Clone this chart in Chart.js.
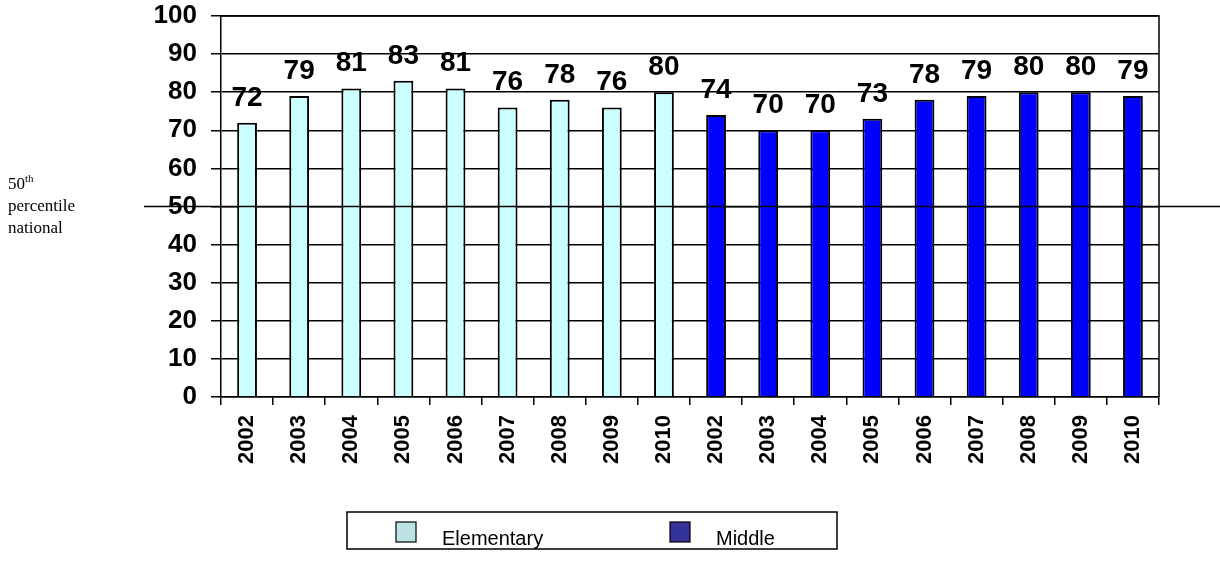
<!DOCTYPE html>
<html>
<head>
<meta charset="utf-8">
<script src="https://cdn.jsdelivr.net/npm/chart.js@4"></script>
<style>
  html, body { margin: 0; padding: 0; background: #fff; }
  #chart { display: block; }
</style>
</head>
<body>
<canvas id="chart" width="1220" height="561"></canvas>
<script>
// years shown under each group of bars
const years = ['2002', '2003', '2004', '2005', '2006', '2007', '2008', '2009', '2010'];

// percentile values
const elementaryScores = [72, 79, 81, 83, 81, 76, 78, 76, 80];
const middleScores = [74, 70, 70, 73, 78, 79, 80, 80, 79];

const yTicks = [0, 10, 20, 30, 40, 50, 60, 70, 80, 90, 100];
const nationalLine = 50;

// build the 18 slots: elementary first, then middle
const categories = years.concat(years);
const elementarySeries = elementaryScores.concat(years.map(() => null));
const middleSeries = years.map(() => null).concat(middleScores);

// draws the frame, value labels, 50th line, side note and the boxed legend
const extrasPlugin = {
  id: 'extras',
  afterDatasetsDraw(chart) {
    const ctx = chart.ctx;
    const area = chart.chartArea;
    const yScale = chart.scales.y;

    ctx.save();
    // frame top + right
    ctx.strokeStyle = '#000';
    ctx.lineWidth = 1.5;
    ctx.beginPath();
    ctx.moveTo(area.left, area.top);
    ctx.lineTo(area.right, area.top);
    ctx.lineTo(area.right, area.bottom);
    ctx.stroke();

    // value labels
    ctx.fillStyle = '#000';
    ctx.font = 'bold 28px "Liberation Sans", Arial, sans-serif';
    ctx.textAlign = 'center';
    ctx.textBaseline = 'alphabetic';
    chart.data.datasets.forEach((ds, i) => {
      const meta = chart.getDatasetMeta(i);
      meta.data.forEach((bar, j) => {
        const v = ds.data[j];
        if (v === null) return;
        ctx.fillText(String(v), bar.x, bar.y - 17);
      });
    });

    // 50th percentile national line
    const y50 = yScale.getPixelForValue(nationalLine);
    ctx.lineWidth = 1.5;
    ctx.beginPath();
    ctx.moveTo(144, y50);
    ctx.lineTo(chart.width, y50);
    ctx.stroke();

    // side note
    ctx.textAlign = 'left';
    ctx.font = '17px "Liberation Serif", "Times New Roman", serif';
    ctx.fillText('50', 8, y50 - 18);
    const w50 = ctx.measureText('50').width;
    ctx.font = '11px "Liberation Serif", "Times New Roman", serif';
    ctx.fillText('th', 8 + w50, y50 - 25);
    ctx.font = '17px "Liberation Serif", "Times New Roman", serif';
    ctx.fillText('percentile', 8, y50 + 4);
    ctx.fillText('national', 8, y50 + 26);

    // legend box
    ctx.lineWidth = 1.5;
    ctx.strokeRect(347, 512, 490, 37);
    const items = [
      { text: 'Elementary', fill: '#BDE3E6', x: 396 },
      { text: 'Middle', fill: '#333399', x: 670 }
    ];
    ctx.font = '20px "Liberation Sans", Arial, sans-serif';
    items.forEach(it => {
      ctx.fillStyle = it.fill;
      ctx.fillRect(it.x, 522, 20, 20);
      ctx.strokeStyle = '#000';
      ctx.lineWidth = 1.2;
      ctx.strokeRect(it.x, 522, 20, 20);
      ctx.fillStyle = '#000';
      ctx.fillText(it.text, it.x + 46, 545);
    });
    ctx.restore();
  }
};

const chart = new Chart(document.getElementById('chart'), {
  type: 'bar',
  data: {
    labels: categories,
    datasets: [
      {
        label: 'Elementary',
        data: elementarySeries,
        backgroundColor: '#CCFFFF',
        borderColor: '#000',
        borderWidth: 2,
        grouped: false,
        barPercentage: 0.38,
        categoryPercentage: 1
      },
      {
        label: 'Middle',
        data: middleSeries,
        backgroundColor: '#0000FF',
        borderColor: '#000',
        borderWidth: 2,
        grouped: false,
        barPercentage: 0.38,
        categoryPercentage: 1
      }
    ]
  },
  options: {
    responsive: false,
    animation: false,
    layout: { padding: { left: 0, right: 61, top: 16, bottom: 0 } },
    plugins: {
      legend: { display: false },
      tooltip: { enabled: false }
    },
    scales: {
      x: {
        afterFit: scale => {
          scale.height = 164;
          scale.paddingLeft = 0;
          scale.paddingRight = 0;
        },
        grid: {
          offset: true,
          drawOnChartArea: false,
          drawTicks: true,
          tickLength: 8,
          color: '#000',
          lineWidth: 1.5
        },
        border: { color: '#000', width: 1.5 },
        ticks: {
          autoSkip: false,
          maxRotation: 90,
          minRotation: 90,
          padding: 10,
          color: '#000',
          font: { family: '"Liberation Sans", Arial, sans-serif', size: 22, weight: 'bold' }
        }
      },
      y: {
        min: 0,
        max: 100,
        afterFit: scale => {
          scale.width = 221;
          scale.paddingTop = 0;
          scale.paddingBottom = 0;
        },
        afterBuildTicks: scale => { scale.ticks = yTicks.map(v => ({ value: v })); },
        grid: {
          color: '#000',
          lineWidth: 1.5,
          tickLength: 10
        },
        border: { color: '#000', width: 1.5 },
        ticks: {
          padding: 14,
          color: '#000',
          font: { family: '"Liberation Sans", Arial, sans-serif', size: 26, weight: 'bold' }
        }
      }
    }
  },
  plugins: [extrasPlugin]
});
</script>
</body>
</html>
